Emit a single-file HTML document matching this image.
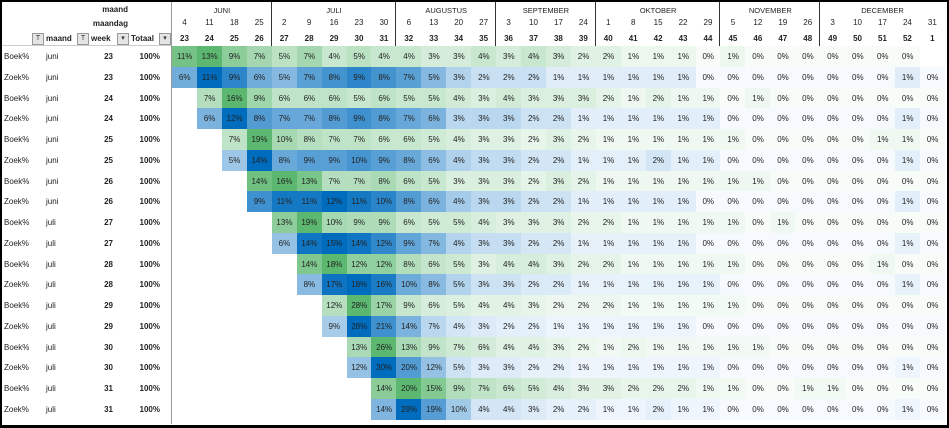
<!DOCTYPE html><html><head><meta charset="utf-8"><style>
body{margin:0;width:949px;height:428px;background:#fff;overflow:hidden;font-family:"Liberation Sans",sans-serif;color:#222}
#f{position:absolute;left:0;top:0;width:945px;height:423px;border:2px solid #000;border-bottom-width:3px}
.a{position:absolute;font-size:8px;white-space:nowrap}
.c{position:absolute;font-size:8px;text-align:center;height:21px;line-height:21px}
.h{font-weight:bold}
.ic{position:absolute;width:10px;height:10px;background:#e4e4e4;border:1px solid #999;font-size:7px;line-height:10px;text-align:center;color:#333}
</style></head><body><div id="f"></div><div id="t"></div>
<script>
const D=[
[23,'B','juni',[11,13,9,7,5,7,4,5,4,4,3,3,4,3,4,3,2,2,1,1,1,0,1,0,0,0,0,0,0,0]],
[23,'Z','juni',[6,11,9,6,5,7,8,9,8,7,5,3,2,2,2,1,1,1,1,1,1,0,0,0,0,0,0,0,0,1,0]],
[24,'B','juni',[7,16,9,6,6,6,5,6,5,5,4,3,4,3,3,3,2,1,2,1,1,0,1,0,0,0,0,0,0,0]],
[24,'Z','juni',[6,12,8,7,7,8,9,8,7,6,3,3,3,2,2,1,1,1,1,1,1,0,0,0,0,0,0,0,1,0]],
[25,'B','juni',[7,19,10,8,7,7,6,6,5,4,3,3,2,3,2,1,1,1,1,1,1,0,0,0,0,0,1,1,0]],
[25,'Z','juni',[5,14,8,9,9,10,9,8,6,4,3,3,2,2,1,1,1,2,1,1,0,0,0,0,0,0,0,1,0]],
[26,'B','juni',[14,16,13,7,7,8,6,5,3,3,3,2,3,2,1,1,1,1,1,1,1,0,0,0,0,0,0,0]],
[26,'Z','juni',[9,11,11,12,11,10,8,6,4,3,3,2,2,1,1,1,1,1,0,0,0,0,0,0,0,0,1,0]],
[27,'B','juli',[13,19,10,9,9,6,5,5,4,3,3,3,2,2,1,1,1,1,1,0,1,0,0,0,0,0,0]],
[27,'Z','juli',[6,14,15,14,12,9,7,4,3,3,2,2,1,1,1,1,1,0,0,0,0,0,0,0,0,1,0]],
[28,'B','juli',[14,18,12,12,8,6,5,3,4,4,3,2,2,1,1,1,1,1,0,0,0,0,0,1,0,0]],
[28,'Z','juli',[8,17,18,16,10,8,5,3,3,2,2,1,1,1,1,1,1,0,0,0,0,0,0,0,1,0]],
[29,'B','juli',[12,28,17,9,6,5,4,4,3,2,2,2,1,1,1,1,1,0,0,0,0,0,0,0,0]],
[29,'Z','juli',[9,28,21,14,7,4,3,2,2,1,1,1,1,1,1,0,0,0,0,0,0,0,0,0,0]],
[30,'B','juli',[13,26,13,9,7,6,4,4,3,2,1,2,1,1,1,1,1,0,0,0,0,0,0,0]],
[30,'Z','juli',[12,30,20,12,5,3,3,2,2,1,1,1,1,1,1,0,0,0,0,0,0,0,1,0]],
[31,'B','juli',[14,20,15,9,7,6,5,4,3,3,2,2,2,1,1,0,0,1,1,0,0,0,0]],
[31,'Z','juli',[14,29,19,10,4,4,3,2,2,1,1,2,1,1,0,0,0,0,0,0,0,1,0]]];
const X0=172,CW=24.93,Y0=46,RH=20.75;
let h='';
const weeks=[],days=[4,11,18,25,2,9,16,23,30,6,13,20,27,3,10,17,24,1,8,15,22,29,5,12,19,26,3,10,17,24,31];
for(let w=23;w<=52;w++)weeks.push(w);weeks.push(1);
const months=[['JUNI',0,4],['JULI',4,9],['AUGUSTUS',9,13],['SEPTEMBER',13,17],['OKTOBER',17,22],['NOVEMBER',22,26],['DECEMBER',26,31]];
months.forEach(m=>{let x=X0+m[1]*CW,w=(m[2]-m[1])*CW;h+=`<div class="c" style="left:${x}px;top:0;width:${w}px;font-size:7.5px">${m[0]}</div>`;
if(m[1]>0)h+=`<div style="position:absolute;left:${x-1}px;top:2px;width:1px;height:44px;background:#333"></div>`;});
weeks.forEach((w,i)=>{let x=X0+i*CW;h+=`<div class="c" style="left:${x}px;top:12px;width:${CW}px">${days[i]}</div><div class="c h" style="left:${x}px;top:28px;width:${CW}px">${w}</div>`;});
h+=`<div style="position:absolute;left:171px;top:2px;width:1px;height:422px;background:#999"></div>`;
h+=`<div style="position:absolute;left:2px;top:45px;width:169px;height:1px;background:#ccc"></div>`;
h+=`<div class="a h" style="left:100px;top:5px;width:28px;text-align:right">maand</div><div class="a h" style="left:90px;top:19px;width:38px;text-align:right">maandag</div>`;
h+=`<div class="ic" style="left:32px;top:33px">T</div><div class="a h" style="left:46px;top:34px">maand</div>`;
h+=`<div class="ic" style="left:77px;top:33px">T</div><div class="a h" style="left:91px;top:34px">week</div>`;
h+=`<div class="ic" style="left:117px;top:33px">▾</div><div class="a h" style="left:131px;top:34px">Totaal</div>`;
h+=`<div class="ic" style="left:159px;top:33px">▾</div>`;
function mix(a,b,t){return 'rgb('+a.map((v,i)=>Math.round(v+(b[i]-v)*t)).join(',')+')'}
D.forEach((r,ri)=>{let y=Y0+ri*RH,st=r[0]-23,vals=r[3],mx=Math.max(...vals);
let dark=r[1]=='B'?[92,184,112]:[0,108,190],lite=r[1]=='B'?[248,252,249]:[246,250,254];
h+=`<div class="a" style="left:4px;top:${y+6}px">${r[1]=='B'?'Boek%':'Zoek%'}</div><div class="a" style="left:46px;top:${y+6}px">${r[2]}</div><div class="a h" style="left:95px;top:${y+6}px;width:18px;text-align:right">${r[0]}</div><div class="a h" style="left:130px;top:${y+6}px;width:30px;text-align:right">100%</div>`;
vals.forEach((v,j)=>{let x=X0+(st+j)*CW;h+=`<div class="c" style="left:${x}px;top:${y}px;width:${CW+0.5}px;background:${mix(lite,dark,v/mx)}">${v}%</div>`;});});
document.getElementById('t').innerHTML=h;
</script></body></html>
